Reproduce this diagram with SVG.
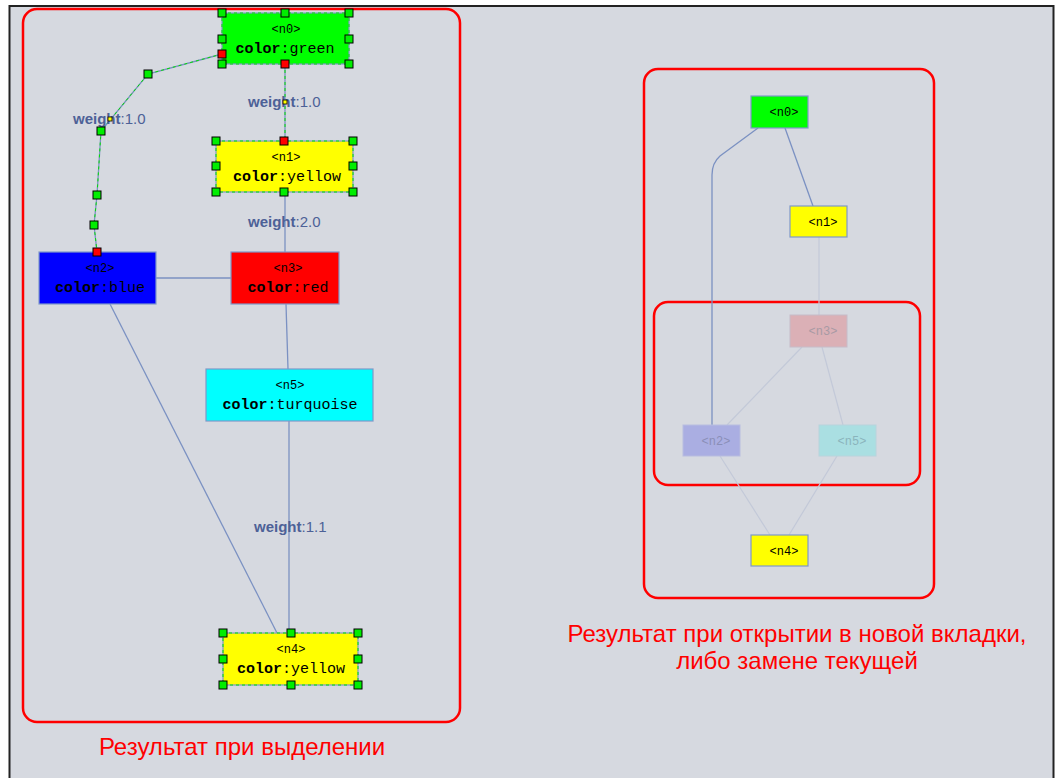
<svg xmlns="http://www.w3.org/2000/svg" width="1056" height="778" viewBox="0 0 1056 778">
<defs>
<style>
.node{stroke:#7f98c8;stroke-width:1.2}
.sel{fill:none;stroke:#00e000;stroke-width:1;stroke-dasharray:3 3}
.e{fill:none;stroke:#7b91c2;stroke-width:1.3}
.ef{fill:none;stroke:#c3c9d8;stroke-width:1.2}
.es{fill:none;stroke:#00e000;stroke-width:1;stroke-dasharray:3 3}
.t1{font-family:"Liberation Mono",monospace;font-size:12px;fill:#000;text-anchor:middle}
.t2{font-family:"Liberation Mono",monospace;font-size:15px;fill:#000;text-anchor:middle}
.tf{font-family:"Liberation Mono",monospace;font-size:12px;text-anchor:middle}
.lbl{font-family:"Liberation Sans",Arial,sans-serif;font-size:15px;fill:#4d6197}
.hg{fill:#00ee00;stroke:#000;stroke-width:1}
.hr{fill:#ff0000;stroke:#000;stroke-width:1}
.grp{fill:none;stroke:#ff0000;stroke-width:2.5}
.cap{font-family:"Liberation Sans",Arial,sans-serif;font-size:24px;fill:#ff0000;text-anchor:middle}
</style>
</defs>
<rect x="0" y="0" width="1056" height="778" fill="#ffffff"/>
<rect x="9.5" y="6" width="1044" height="780" fill="#d6d9e0" stroke="#222" stroke-width="2"/>

<!-- group frames -->
<rect class="grp" x="23" y="9" width="437" height="713" rx="14"/>
<rect class="grp" x="644" y="69" width="290" height="529" rx="14"/>
<rect class="grp" x="654" y="302" width="266" height="183" rx="14"/>

<!-- connectors -->
<g id="connectors">
<line class="e" x1="285" y1="64" x2="285" y2="141"/>
<line class="es" x1="285" y1="64" x2="285" y2="141"/>
<polyline class="e" points="222,54 148,74 101,131 97,195 94,225 97,252"/>
<polyline class="es" points="222,54 148,74 101,131 97,195 94,225 97,252"/>
<line class="e" x1="285" y1="192" x2="285" y2="252"/>
<line class="e" x1="156" y1="278" x2="231" y2="278"/>
<line class="e" x1="286" y1="304" x2="288" y2="369"/>
<line class="e" x1="289" y1="421" x2="289" y2="633"/>
<line class="e" x1="110" y1="304" x2="277" y2="633"/>

<path class="e" d="M758,128 L720,156 Q712,163 712,175 L712,425"/>
<line class="e" x1="785" y1="128" x2="813" y2="206"/>
<line class="ef" x1="819" y1="237" x2="819" y2="315"/>
<line class="ef" x1="802" y1="347" x2="727" y2="425"/>
<line class="ef" x1="822" y1="347" x2="843" y2="425"/>
<line class="ef" x1="720" y1="456" x2="770" y2="535"/>
<line class="ef" x1="837" y1="456" x2="789" y2="535"/>

<text class="lbl" x="248" y="107"><tspan font-weight="bold">weight</tspan>:1.0</text>
<text class="lbl" x="73" y="124"><tspan font-weight="bold">weight</tspan>:1.0</text>
<text class="lbl" x="248" y="227"><tspan font-weight="bold">weight</tspan>:2.0</text>
<text class="lbl" x="254" y="532"><tspan font-weight="bold">weight</tspan>:1.1</text>
<rect x="283" y="100" width="4" height="4" fill="#ffff00" stroke="#000" stroke-width="0.8"/>
<rect x="108" y="117" width="4" height="4" fill="#ffff00" stroke="#000" stroke-width="0.8"/>
<rect class="hg" x="144" y="70" width="8" height="8"/>
<rect class="hg" x="97" y="127" width="8" height="8"/>
<rect class="hg" x="93" y="191" width="8" height="8"/>
<rect class="hg" x="90" y="221" width="8" height="8"/>
</g>

<!-- left nodes -->
<g id="n0">
<rect class="node" x="222" y="13" width="127" height="51" fill="#00ff00"/>
<rect class="sel" x="222" y="13" width="127" height="51"/>
<text class="t1" x="286" y="33">&lt;n0&gt;</text>
<text class="t2" x="285" y="53"><tspan font-weight="bold">color</tspan>:green</text>
<rect class="hg" x="218" y="9" width="8" height="8"/>
<rect class="hg" x="281" y="9" width="8" height="8"/>
<rect class="hg" x="345" y="9" width="8" height="8"/>
<rect class="hg" x="218" y="35" width="8" height="8"/>
<rect class="hg" x="345" y="35" width="8" height="8"/>
<rect class="hg" x="218" y="60" width="8" height="8"/>
<rect class="hg" x="345" y="60" width="8" height="8"/>
<rect class="hr" x="281" y="60" width="8" height="8"/>
<rect class="hr" x="218" y="50" width="8" height="8"/>
</g>

<g id="n1">
<rect class="node" x="216" y="141" width="137" height="51" fill="#ffff00"/>
<rect class="sel" x="216" y="141" width="137" height="51"/>
<text class="t1" x="286" y="161">&lt;n1&gt;</text>
<text class="t2" x="287" y="181"><tspan font-weight="bold">color</tspan>:yellow</text>
<rect class="hg" x="212" y="137" width="8" height="8"/>
<rect class="hr" x="280" y="137" width="8" height="8"/>
<rect class="hg" x="349" y="137" width="8" height="8"/>
<rect class="hg" x="212" y="162" width="8" height="8"/>
<rect class="hg" x="349" y="162" width="8" height="8"/>
<rect class="hg" x="212" y="188" width="8" height="8"/>
<rect class="hg" x="280" y="188" width="8" height="8"/>
<rect class="hg" x="349" y="188" width="8" height="8"/>
</g>

<g id="n2">
<rect class="node" x="39" y="252" width="117" height="52" fill="#0000ff"/>
<text class="t1" x="100" y="272">&lt;n2&gt;</text>
<text class="t2" x="100" y="292"><tspan font-weight="bold">color</tspan>:blue</text>
<rect class="hr" x="93" y="248" width="8" height="8"/>
</g>

<g id="n3">
<rect class="node" x="231" y="252" width="108" height="52" fill="#ff0000"/>
<text class="t1" x="288" y="272">&lt;n3&gt;</text>
<text class="t2" x="288" y="292"><tspan font-weight="bold">color</tspan>:red</text>
</g>

<g id="n5">
<rect class="node" x="206" y="369" width="167" height="52" fill="#00ffff"/>
<text class="t1" x="290" y="389">&lt;n5&gt;</text>
<text class="t2" x="290" y="409"><tspan font-weight="bold">color</tspan>:turquoise</text>
</g>

<g id="n4">
<rect class="node" x="223" y="633" width="135" height="52" fill="#ffff00"/>
<rect class="sel" x="223" y="633" width="135" height="52"/>
<text class="t1" x="291" y="653">&lt;n4&gt;</text>
<text class="t2" x="291" y="673"><tspan font-weight="bold">color</tspan>:yellow</text>
<rect class="hg" x="219" y="629" width="8" height="8"/>
<rect class="hg" x="287" y="629" width="8" height="8"/>
<rect class="hg" x="354" y="629" width="8" height="8"/>
<rect class="hg" x="219" y="655" width="8" height="8"/>
<rect class="hg" x="354" y="655" width="8" height="8"/>
<rect class="hg" x="219" y="681" width="8" height="8"/>
<rect class="hg" x="287" y="681" width="8" height="8"/>
<rect class="hg" x="354" y="681" width="8" height="8"/>
</g>

<!-- right nodes -->
<g id="r-n0">
<rect class="node" x="751" y="96" width="57" height="32" fill="#00ff00"/>
<text class="t1" x="784" y="116">&lt;n0&gt;</text>
</g>
<g id="r-n1">
<rect class="node" x="790" y="206" width="57" height="31" fill="#ffff00"/>
<text class="t1" x="823" y="226">&lt;n1&gt;</text>
</g>
<g id="r-n3">
<rect x="790" y="315" width="57" height="32" fill="#dbb0b6" stroke="#c6bcc8" stroke-width="1"/>
<text class="tf" x="823" y="335" fill="#a89aa4">&lt;n3&gt;</text>
</g>
<g id="r-n2">
<rect x="683" y="425" width="57" height="31" fill="#aaaee2" stroke="#b8bddf" stroke-width="1"/>
<text class="tf" x="716" y="445" fill="#8a8fb8">&lt;n2&gt;</text>
</g>
<g id="r-n5">
<rect x="819" y="425" width="57" height="31" fill="#aadfe2" stroke="#b8d4dc" stroke-width="1"/>
<text class="tf" x="852" y="445" fill="#8ab4bc">&lt;n5&gt;</text>
</g>
<g id="r-n4">
<rect class="node" x="751" y="535" width="57" height="31" fill="#ffff00"/>
<text class="t1" x="784" y="555">&lt;n4&gt;</text>
</g>

<text class="cap" x="242" y="755">Результат при выделении</text>
<text class="cap" x="797" y="642">Результат при открытии в новой вкладки,</text>
<text class="cap" x="797" y="669">либо замене текущей</text>
</svg>
